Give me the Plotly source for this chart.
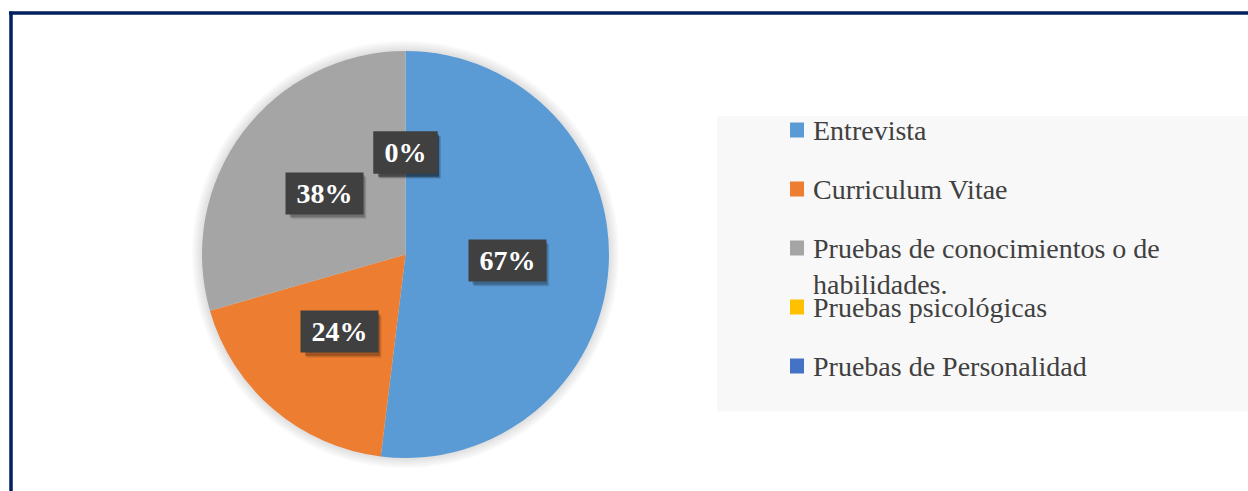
import math
import plotly.graph_objects as go

# Selection methods reported by respondents (percent of respondents)
categories = [
    "Entrevista",
    "Curriculum Vitae",
    "Pruebas de conocimientos o de<br>habilidades.",
    "Pruebas psicológicas",
    "Pruebas de Personalidad",
]
values = [67, 24, 38, 0, 0]
colors = ["#5B9BD5", "#ED7D31", "#A5A5A5", "#FFC000", "#4472C4"]

W, H = 1248, 491
SERIF = "Liberation Serif, Times New Roman, serif"
NAVY = "#002060"
LABEL_SIZE = 28

# pie geometry in pixels
cx, cy, r = 405.5, 254.5, 203.5


def px(x):
    return x / W


def py(y):
    return 1 - y / H


fig = go.Figure()
fig.add_trace(
    go.Pie(
        labels=[c.replace("<br>", " ") for c in categories],
        values=values,
        marker=dict(colors=colors, line=dict(width=0)),
        sort=False,
        direction="clockwise",
        rotation=0,
        textinfo="none",
        hoverinfo="label+value",
        showlegend=False,
        domain=dict(x=[px(cx - r), px(cx + r)], y=[py(cy + r), py(cy - r)]),
    )
)

shapes = []
annotations = []

# soft glow around the pie
for k in (10, 8, 6, 4, 2):
    shapes.append(dict(
        type="circle", xref="paper", yref="paper", layer="below",
        x0=px(cx - r - k), x1=px(cx + r + k), y0=py(cy + r + k), y1=py(cy - r - k),
        fillcolor="rgba(0,0,0,0.025)", line=dict(width=0),
    ))

# value labels at half radius along each slice's mid angle
total = sum(values)
cum = 0
for v in values:
    theta = 2 * math.pi * (cum + v / 2) / total
    cum += v
    lx = cx + 0.5 * r * math.sin(theta)
    ly = cy - 0.5 * r * math.cos(theta)
    txt = f"{v}%"
    # drop shadow behind the label box, sized in pixels around the anchor
    bw = LABEL_SIZE * (0.5 * len(str(v)) + 1) + 19
    bh = 42
    for off, a in ((4.5, 0.14), (3, 0.22)):
        shapes.append(dict(
            type="rect", xref="paper", yref="paper",
            xsizemode="pixel", ysizemode="pixel",
            xanchor=px(lx), yanchor=py(ly),
            x0=-bw / 2 + off, x1=bw / 2 + off,
            y0=-bh / 2 - off, y1=bh / 2 - off,
            fillcolor=f"rgba(0,0,0,{a})", line=dict(width=0),
        ))
    annotations.append(dict(
        x=px(lx), y=py(ly), xref="paper", yref="paper",
        xanchor="center", yanchor="middle", showarrow=False,
        text=f"<b>\u2009{txt}\u2009</b>", borderpad=5,
        font=dict(family=SERIF, size=LABEL_SIZE, color="white"),
        bgcolor="#404040",
    ))

# legend panel
shapes.append(dict(
    type="rect", xref="paper", yref="paper", layer="below",
    x0=px(717), x1=1.0, y0=py(411.5), y1=py(116),
    fillcolor="#F8F8F8", line=dict(width=0),
))
leg_top, leg_step = 130, 59
for i, (name, col) in enumerate(zip(categories, colors)):
    yc = leg_top + i * leg_step
    shapes.append(dict(
        type="rect", xref="paper", yref="paper",
        x0=px(790), x1=px(804), y0=py(yc + 7.5), y1=py(yc - 7.5),
        fillcolor=col, line=dict(width=0),
    ))
    annotations.append(dict(
        x=px(812), y=py(yc - 16), xref="paper", yref="paper",
        xanchor="left", yanchor="top", align="left", showarrow=False,
        text=name, font=dict(family=SERIF, size=28, color="#404040"),
        borderpad=0,
    ))

# frame lines along the top and left
shapes.append(dict(type="line", xref="paper", yref="paper",
                   x0=px(9), x1=1.0, y0=py(13), y1=py(13),
                   line=dict(color=NAVY, width=3.5)))
shapes.append(dict(type="line", xref="paper", yref="paper",
                   x0=px(11), x1=px(11), y0=py(11.5), y1=0,
                   line=dict(color=NAVY, width=3.5)))

fig.update_layout(
    width=W, height=H,
    margin=dict(l=0, r=0, t=0, b=0),
    paper_bgcolor="white", plot_bgcolor="white",
    shapes=shapes, annotations=annotations,
    showlegend=False,
)

fig.write_html("out.html")
